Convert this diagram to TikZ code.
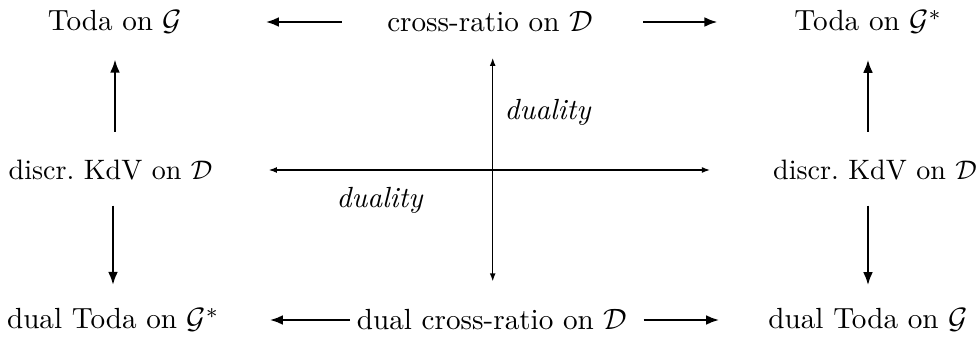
\documentclass[tikz,border=0pt]{standalone}
\usepackage{amsmath}
\usetikzlibrary{arrows.meta}

\tikzset{
	every node/.style={font=\fontsize{10.85pt}{13pt}\selectfont},
	midrow/.style={font=\fontsize{10.45pt}{13pt}\selectfont},
	thickarrow/.style={line width=1pt,-{Latex[length=5pt,width=3.7pt]}},
	thinarrow/.style={line width=0.5pt,{Latex[length=3pt,width=2.2pt]}-{Latex[length=3pt,width=2.2pt]}},
}

\begin{document}
\begin{tikzpicture}[x=0.01307cm,y=-0.01307cm]

	% Marges
	\useasboundingbox (0,0) rectangle (980,339);

	% Fila superior
	\node (TL) at (115,22) {Toda on $\mathcal{G}$};
	\node (TM) at (490,22) {cross-ratio on $\mathcal{D}$};
	\node (TR) at (868,22) {Toda on $\mathcal{G}^*$};

	% Fila central
	\node[midrow] (ML) at (110.5,170) {discr.\ KdV on $\mathcal{D}$};
	\node[midrow] (MR) at (875,170) {discr.\ KdV on $\mathcal{D}$};

	% Fila inferior
	\node (BL) at (113,320) {dual Toda on $\mathcal{G}^*$};
	\node (BM) at (492,320) {dual cross-ratio on $\mathcal{D}$};
	\node (BR) at (868,320) {dual Toda on $\mathcal{G}$};

	% Fletxes horitzontals
	\draw[thickarrow,shorten <=13.4pt,shorten >=27.5pt] (TM.west) -- (TL.east);
	\draw[thickarrow,shorten <=15.3pt,shorten >=25pt] (TM.east) -- (TR.west);
	\draw[thickarrow,shorten <=-1pt,shorten >=15.3pt] (BM.west) -- (BL.east);
	\draw[thickarrow,shorten <=2.6pt,shorten >=14.7pt] (BM.east) -- (BR.west);

	% Fletxes verticals
	\draw[thickarrow,shorten <=7pt,shorten >=6pt] (TL.south |- ML.north) -- (TL.south);
	\draw[thickarrow,shorten <=7pt,shorten >=6pt] (TR.south |- MR.north) -- (TR.south);
	\draw[thickarrow,shorten <=6pt,shorten >=5pt] (BL.north |- ML.south) -- (BL.north);
	\draw[thickarrow,shorten <=6pt,shorten >=5pt] (BR.north |- MR.south) -- (BR.north);

	% Dualitats
	\draw[thinarrow,shorten <=17.5pt,shorten >=20pt] (ML.east) -- (MR.west);
	\draw[thinarrow,shorten <=6pt,shorten >=7pt] ([xshift=1pt]TM.south) -- ([xshift=1pt]TM.south |- BM.north);

	\node (DV) at (548,112) {\textit{duality}};
	\node (DH) at (380,200) {\textit{duality}};

\end{tikzpicture}
\end{document}
